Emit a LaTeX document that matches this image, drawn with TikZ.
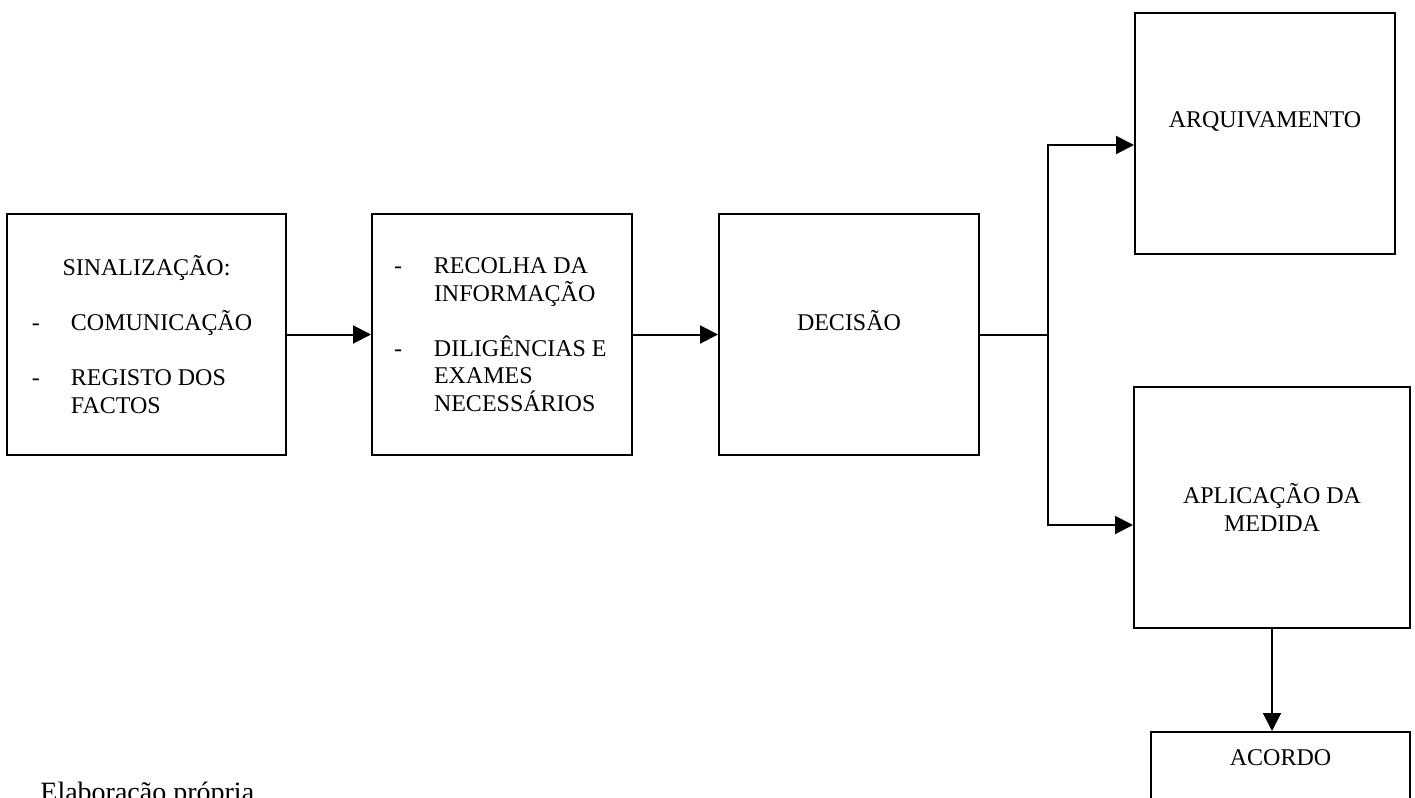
\documentclass[tikz,border=0pt]{standalone}
\usepackage{fontspec}
\setmainfont{Liberation Serif}
\usetikzlibrary{arrows.meta}

\tikzset{
  box/.style={draw, line width=1pt, inner sep=0pt, minimum height=120.5pt, align=center, font=\fontsize{12pt}{13.75pt}\selectfont},
  flow/.style={line width=1pt, -{Triangle[length=9pt, width=9pt]}}
}

\begin{document}
\begin{tikzpicture}[x=0.5pt, y=-0.5pt]
\useasboundingbox (0,0) rectangle (1415,798);
\node[box, minimum width=139.5pt, text width=114.5pt, inner xsep=12.5pt, align=flush left] (sin) at (146.5,334.5) {\noindent\makebox[\hsize]{SINALIZAÇÃO:}\\[13.75pt] \makebox[19.5pt][l]{-}COMUNICAÇÃO\\[13.75pt] \makebox[19.5pt][l]{-}\mbox{REGISTO DOS}\\ \hspace*{19.5pt}FACTOS};
\node[box, minimum width=130pt, text width=108pt, inner xsep=11pt, align=flush left] (rec) at (502,334.5) {\noindent\makebox[20pt][l]{-}\mbox{RECOLHA DA}\\ \hspace*{20pt}INFORMAÇÃO\\[13.75pt] \makebox[20pt][l]{-}\mbox{DILIGÊNCIAS E}\\ \hspace*{20pt}EXAMES\\ \hspace*{20pt}NECESSÁRIOS};
\node[box, minimum width=130pt] (dec) at (849,334.5) {DECISÃO\\ ~};
\node[box, minimum width=130pt] (arq) at (1265,133.5) {ARQUIVAMENTO\\ ~};
\node[box, minimum width=138pt] (apl) at (1272,507.5) {APLICAÇÃO DA\\MEDIDA};
\node[box, minimum width=129.5pt, minimum height=0pt, text height=16.5pt, text depth=60pt, anchor=base] (aco) at (1280.5,765) {ACORDO};
\node[anchor=base west, inner sep=0pt, font=\fontsize{14pt}{16pt}\selectfont] (fonte) at (40,801) {Elaboração própria};
\coordinate (split) at (1048,334.5);
\draw[flow] (sin) -- (rec);
\draw[flow] (rec) -- (dec);
\draw[line width=1pt] (dec) -- (split);
\draw[flow] (split) |- ([yshift=-5.75pt]arq.west);
\draw[flow] (split) |- ([yshift=-8.75pt]apl.west);
\draw[flow] (apl.south) -- (apl.south |- aco.north);
\end{tikzpicture}
\end{document}
